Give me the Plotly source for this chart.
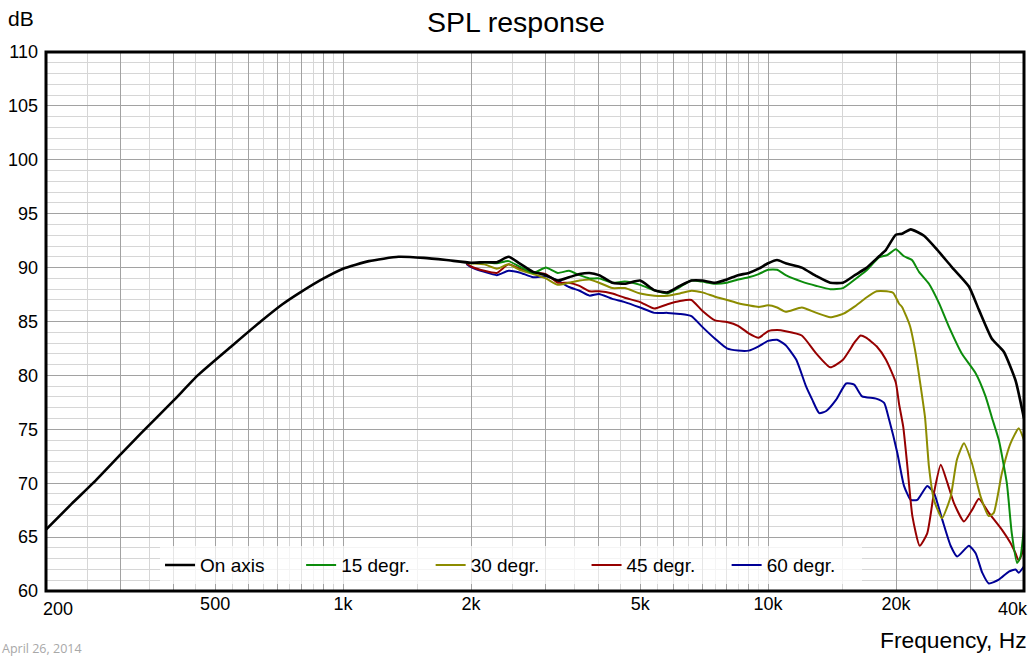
import math
import plotly.graph_objects as go

# ---------------- data ----------------
freq_on = [200, 230, 258, 300, 334, 400, 455, 550, 640, 720, 800, 900, 1000, 1150, 1350, 1550, 1750,
           2000, 2150, 2300, 2450, 2600, 2800, 3000, 3200, 3400, 3600, 3800, 4000, 4300, 4600, 5000,
           5400, 5800, 6200, 6600, 7000, 7500, 8000, 8500, 9000, 9500, 10000, 10500, 11000, 12000,
           13000, 14000, 15000, 16000, 17000, 18240, 18940, 19970, 20660, 21660, 23270, 24800, 27060,
           29680, 31320, 33610, 35850, 38200, 40000]
db_on = [65.7, 68.1, 70.0, 72.7, 74.6, 77.7, 80.0, 82.8, 85.0, 86.6, 87.8, 89.0, 89.9, 90.6, 91.0, 90.9, 90.7,
         90.45, 90.5, 90.5, 91.0, 90.4, 89.6, 89.3, 88.8, 89.1, 89.4, 89.5, 89.3, 88.6, 88.5, 88.8,
         87.9, 87.7, 88.3, 88.8, 88.8, 88.6, 88.9, 89.3, 89.5, 89.9, 90.4, 90.7, 90.4, 90.0,
         89.2, 88.6, 88.6, 89.3, 89.95, 91.05, 91.65, 93.05, 93.15, 93.55, 92.95, 91.8, 90.05,
         88.25, 86.1, 83.4, 82.2, 79.55, 76.0]

freq_15 = [1950, 2000, 2150, 2300, 2450, 2600, 2800, 3000, 3200, 3400, 3600, 3800, 4000, 4300, 4600, 5000,
           5400, 5800, 6200, 6600, 7000, 7500, 8000, 8500, 9000, 9500, 10000, 10500, 11000, 12000,
           13000, 14000, 15000, 16000, 17000, 18240, 19060, 19970, 20880, 21800, 22650, 23900, 25240,
           26640, 28580, 30780, 32480, 33610, 34900, 36450, 37440, 38540, 39250, 40000]
db_15 = [90.45, 90.4, 90.5, 90.4, 90.6, 90.1, 89.5, 90.0, 89.5, 89.7, 89.3, 89.0, 89.0, 88.6, 88.7, 88.4,
         87.9, 87.6, 88.2, 88.8, 88.7, 88.5, 88.6, 88.9, 89.1, 89.4, 89.8, 89.8, 89.3, 88.7,
         88.3, 88.0, 88.1, 88.9, 89.7, 90.95, 91.15, 91.7, 91.05, 90.7, 89.6, 88.5, 86.7,
         84.5, 82.0, 80.2, 78.05, 76.1, 74.0, 70.0, 65.35, 62.6, 63.2, 65.95]

freq_30 = [1950, 2000, 2150, 2300, 2450, 2600, 2800, 3000, 3200, 3400, 3600, 3800, 4000, 4300, 4600, 5000,
           5400, 5800, 6200, 6600, 7000, 7500, 8000, 8500, 9000, 9500, 10000, 10500, 11000, 12000,
           13000, 14000, 15000, 16000, 17000, 18000, 19000, 19700, 20330, 20660, 21560, 22250, 22860,
           23400, 23900, 24560, 25650, 26880, 27820, 28890, 30170, 31620, 33060, 33960, 35470, 37180,
           38880, 40000]
db_30 = [90.45, 90.4, 90.3, 89.9, 90.3, 89.8, 89.4, 89.0, 88.4, 88.6, 88.8, 88.9, 88.6, 88.1, 88.1, 87.6,
         87.4, 87.4, 87.6, 87.85, 87.7, 87.3, 87.0, 86.7, 86.5, 86.35, 86.5, 86.3, 85.9, 86.3,
         85.8, 85.4, 85.7, 86.4, 87.2, 87.8, 87.8, 87.65, 86.65, 86.35, 84.6, 82.0, 78.95,
         76.1, 71.55, 68.45, 66.75, 68.75, 72.2, 73.7, 71.85, 68.75, 66.95, 67.25, 70.9, 73.7,
         75.1, 74.0]

freq_45 = [1950, 2000, 2150, 2300, 2450, 2600, 2800, 3000, 3200, 3400, 3600, 3800, 4000, 4300, 4600, 5000,
           5400, 5800, 6200, 6600, 7000, 7500, 8000, 8500, 9000, 9500, 10000, 10500, 11000, 12000,
           13000, 14000, 15000, 16000, 16500, 17000, 18000, 18940, 19970, 20330, 20800, 21260, 21850,
           22730, 23680, 24560, 25480, 26400, 27370, 28890, 30220, 31320, 33060, 35540, 37180, 38200,
           38880, 40000]
db_45 = [90.4, 90.1, 89.7, 89.5, 90.3, 89.9, 89.55, 89.4, 88.6, 88.6, 88.3, 87.8, 87.8, 87.6, 87.2, 86.8,
         86.2, 86.6, 86.9, 87.0, 86.0, 85.1, 84.95, 84.6, 83.9, 83.5, 84.1, 84.2, 84.1, 83.7,
         82.0, 80.75, 81.45, 83.1, 83.7, 83.5, 82.7, 81.45, 79.35, 77.35, 75.2, 71.6, 66.95,
         64.2, 65.35, 69.1, 71.7, 70.05, 68.15, 66.45, 67.55, 68.55, 67.25, 65.65, 64.45, 63.5,
         62.8, 64.0]

freq_60 = [1950, 2000, 2150, 2300, 2450, 2600, 2800, 3000, 3200, 3400, 3600, 3800, 4000, 4300, 4600, 5000,
           5400, 5800, 6200, 6600, 7000, 7500, 8000, 8500, 9000, 9500, 10000, 10500, 11000, 11650,
           12290, 12700, 13190, 13700, 14460, 15260, 15940, 16640, 17950, 18750, 19260, 20140, 20880,
           21660, 22440, 23680, 24560, 25700, 26880, 27860, 29680, 30780, 31900, 33060, 34900, 36850,
           38200, 38880, 40000]
db_60 = [90.35, 90.05, 89.6, 89.3, 89.7, 89.55, 89.1, 89.2, 88.8, 88.2, 87.85, 87.4, 87.55, 87.1, 86.8, 86.3,
         85.8, 85.8, 85.7, 85.5, 84.5, 83.4, 82.5, 82.3, 82.3, 82.7, 83.2, 83.3, 82.8, 81.45,
         78.95, 77.75, 76.5, 76.7, 77.75, 79.25, 79.15, 78.05, 77.85, 77.45, 75.9, 72.8, 69.75,
         68.45, 68.45, 69.75, 69.1, 66.6, 64.2, 63.2, 64.2, 63.5, 61.7, 60.7, 61.05, 61.8,
         62.0, 61.7, 62.3]

series_names = ["On axis", "15 degr.", "30 degr.", "45 degr.", "60 degr."]
series_freqs = [freq_on, freq_15, freq_30, freq_45, freq_60]
series_dbs = [db_on, db_15, db_30, db_45, db_60]

x_major = [200, 300, 400, 500, 600, 700, 800, 900, 1000, 2000, 3000, 4000, 5000, 6000, 7000, 8000, 9000,
           10000, 20000, 30000, 40000]
x_major_text = ["", "", "", "500", "", "", "", "", "1k", "2k", "", "", "5k", "", "", "", "",
                "10k", "20k", "", ""]
x_minor = [250, 350, 450, 550, 650, 750, 850, 950, 1500, 2500, 3500, 4500, 5500, 6500, 7500, 8500, 9500,
           15000, 25000, 35000]
y_ticks = [60, 65, 70, 75, 80, 85, 90, 95, 100, 105, 110]

# ---------------- styling ----------------
series_colors = ["#000000", "#0c8c0c", "#8c8c00", "#960000", "#000096"]
series_widths = [2.6, 2.0, 2.0, 2.0, 2.0]
legend_pad = [6, 3, 8, 5, 4]   # non-breaking spaces to reproduce the wide legend spacing
NBSP = "\u00a0"

FONT = "Liberation Sans, Arial, Helvetica, sans-serif"
TICK = 18

fig = go.Figure()
# coloured curves first, black on top; legend keeps original order via legendrank
for i in [4, 3, 2, 1, 0]:
    assert len(series_freqs[i]) == len(series_dbs[i])
    fig.add_trace(go.Scatter(
        x=series_freqs[i], y=series_dbs[i], mode="lines",
        name=series_names[i] + NBSP * legend_pad[i],
        line=dict(color=series_colors[i], width=series_widths[i], shape="spline", smoothing=0.5),
        legendrank=i + 1, hoverinfo="skip"))

fig.update_layout(
    width=1032, height=656,
    margin=dict(l=46, r=8, t=52, b=65),
    paper_bgcolor="white", plot_bgcolor="white",
    font=dict(family=FONT, color="black", size=16),
    title=dict(text="SPL response", x=0.5, xref="container", xanchor="center",
               y=1 - 22 / 656, yref="container", yanchor="middle",
               font=dict(family=FONT, size=28.5, color="black")),
    showlegend=True,
    legend=dict(orientation="h", x=0.1166, xanchor="left", y=0.048, yanchor="middle",
                bgcolor="rgba(255,255,255,0.72)", borderwidth=0,
                font=dict(family=FONT, size=19, color="black"),
                itemclick=False, itemdoubleclick=False),
    xaxis=dict(type="log", range=[math.log10(200), math.log10(40000)],
               tickmode="array", tickvals=x_major, ticktext=x_major_text,
               showgrid=True, gridcolor="#a2a2a2", gridwidth=1,
               minor=dict(tickvals=x_minor, showgrid=True, gridcolor="#d6d6d6", gridwidth=1, ticks=""),
               ticks="", showline=False, zeroline=False,
               tickfont=dict(family=FONT, size=TICK, color="black")),
    yaxis=dict(range=[60, 110], tickmode="array", tickvals=y_ticks,
               showgrid=True, gridcolor="#a2a2a2", gridwidth=1,
               minor=dict(dtick=1, showgrid=True, gridcolor="#d6d6d6", gridwidth=1, ticks=""),
               ticks="", showline=False, zeroline=False, ticklabelstandoff=7,
               tickfont=dict(family=FONT, size=TICK, color="black")),
    shapes=[dict(type="rect", xref="paper", yref="paper", x0=0, x1=1, y0=0, y1=1,
                 line=dict(color="black", width=3), layer="above")],
    annotations=[
        dict(text="dB", xref="paper", yref="paper", x=0, y=1, xanchor="right", yanchor="middle",
             xshift=-10, yshift=34, showarrow=False, font=dict(family=FONT, size=21, color="black")),
        dict(text="200", xref="x", yref="paper", x=math.log10(200), y=0, xanchor="left", yanchor="middle",
             xshift=-5, yshift=-18, showarrow=False, font=dict(family=FONT, size=TICK, color="black")),
        dict(text="40k", xref="x", yref="paper", x=math.log10(40000), y=0, xanchor="right", yanchor="middle",
             xshift=6, yshift=-18, showarrow=False, font=dict(family=FONT, size=TICK, color="black")),
        dict(text="Frequency, Hz", xref="paper", yref="paper", x=1, y=0, xanchor="right", yanchor="middle",
             xshift=5, yshift=-49, showarrow=False, font=dict(family=FONT, size=22.8, color="black")),
        dict(text="April 26, 2014", xref="paper", yref="paper", x=0, y=0, xanchor="left", yanchor="middle",
             xshift=-46, yshift=-57, showarrow=False,
             font=dict(family="Open Sans, sans-serif", size=12.5, color="#a8a8a8")),
    ],
)

fig.write_html("out.html", config={"displayModeBar": False, "staticPlot": True},
               post_script="document.body.style.margin='0';document.body.style.overflow='hidden';")
